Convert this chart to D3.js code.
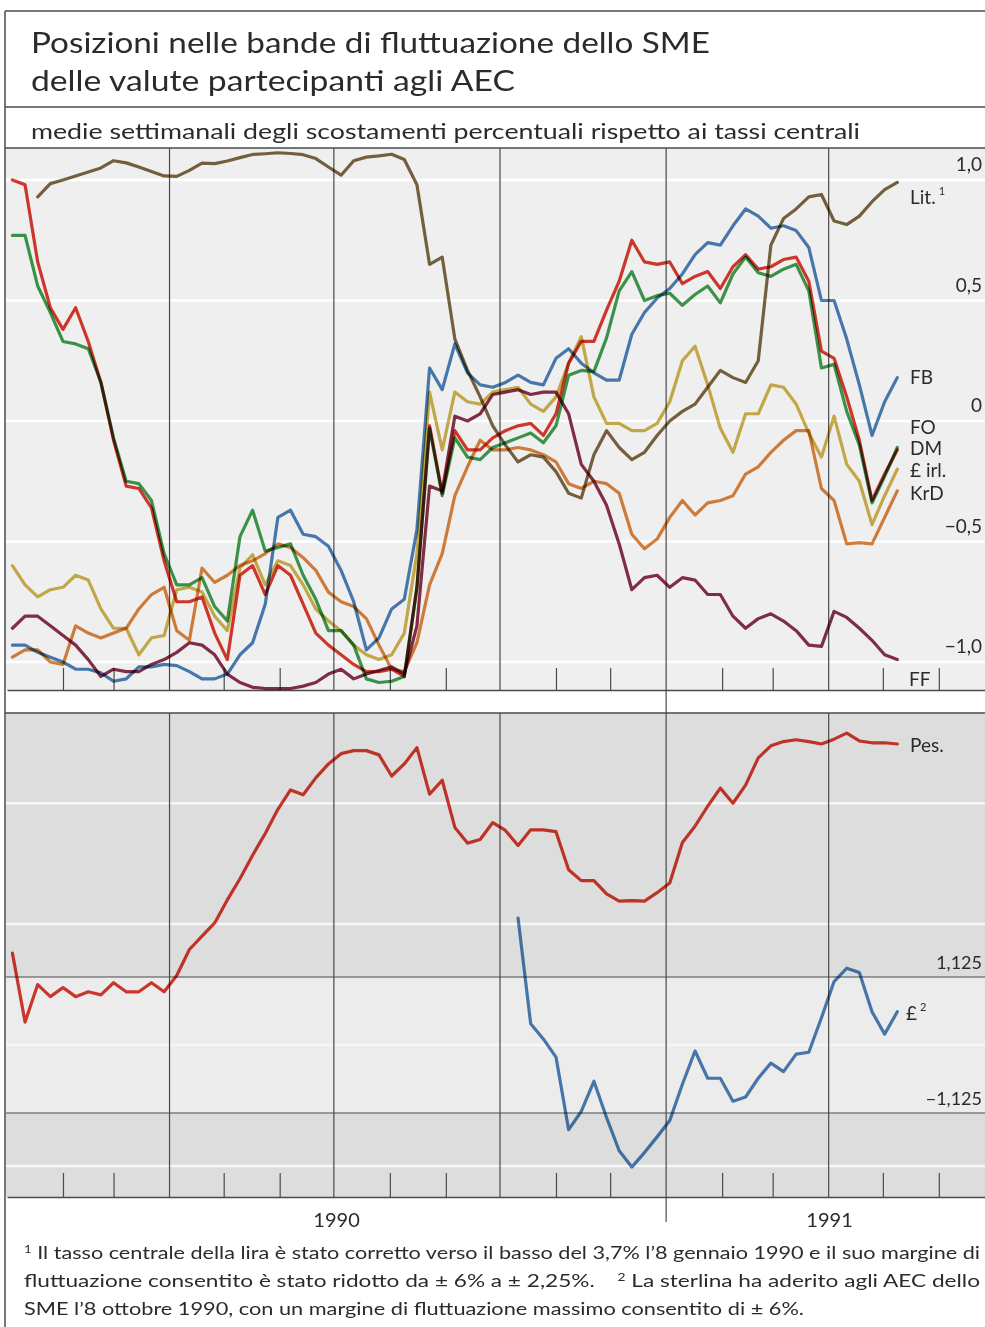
<!DOCTYPE html>
<html><head><meta charset="utf-8">
<script src="https://cdn.jsdelivr.net/npm/d3@7/dist/d3.min.js"></script>
<style>
html,body{margin:0;padding:0;background:#fff;}
svg{display:block;font-family:Lato,"Open Sans",sans-serif;}
</style></head><body>
<svg id="chart" width="985" height="1327"></svg>
<script>
// ---------------- DATA ----------------
const weekStart = "1990-01-04";   // first weekly average
const nWeeks = 71;
const topNames = ["Lit.", "FB", "FO", "DM", "£ irl.", "KrD", "FF"];
const lira = [null,null,0.93,0.985,1.0,1.017,1.033,1.05,1.08,1.071,1.054,1.035,1.017,1.015,1.04,1.07,1.068,1.079,1.093,1.106,1.109,1.113,1.11,1.105,1.089,1.054,1.02,1.08,1.095,1.10,1.107,1.085,0.98,0.65,0.68,0.34,0.21,0.10,-0.02,-0.10,-0.17,-0.14,-0.15,-0.21,-0.30,-0.32,-0.14,-0.04,-0.11,-0.16,-0.13,-0.06,0.0,0.04,0.07,0.14,0.21,0.18,0.16,0.25,0.73,0.84,0.88,0.93,0.94,0.83,0.815,0.85,0.91,0.96,0.99];
const fb = [-0.93,-0.93,-0.96,-0.98,-1.0,-1.03,-1.03,-1.045,-1.08,-1.07,-1.02,-1.02,-1.01,-1.015,-1.04,-1.07,-1.07,-1.05,-0.97,-0.92,-0.76,-0.40,-0.37,-0.47,-0.48,-0.52,-0.62,-0.75,-0.95,-0.90,-0.78,-0.74,-0.45,0.22,0.13,0.32,0.20,0.15,0.14,0.16,0.19,0.16,0.15,0.26,0.30,0.24,0.20,0.17,0.17,0.36,0.45,0.51,0.55,0.61,0.69,0.74,0.73,0.81,0.88,0.85,0.80,0.81,0.79,0.72,0.50,0.50,0.34,0.15,-0.06,0.08,0.18];
const fo = [0.77,0.77,0.56,0.45,0.33,0.32,0.30,0.16,-0.07,-0.25,-0.26,-0.33,-0.55,-0.68,-0.68,-0.65,-0.77,-0.83,-0.48,-0.37,-0.54,-0.525,-0.51,-0.64,-0.74,-0.87,-0.87,-0.93,-1.07,-1.085,-1.08,-1.06,-0.69,-0.03,-0.31,-0.07,-0.15,-0.16,-0.11,-0.09,-0.07,-0.05,-0.09,-0.02,0.19,0.21,0.205,0.345,0.54,0.62,0.50,0.52,0.53,0.48,0.525,0.56,0.49,0.61,0.68,0.615,0.60,0.63,0.65,0.54,0.22,0.235,0.04,-0.10,-0.34,-0.23,-0.11];
const dm = [1.00,0.98,0.66,0.47,0.38,0.47,0.33,0.16,-0.08,-0.27,-0.28,-0.36,-0.58,-0.75,-0.75,-0.73,-0.88,-0.99,-0.64,-0.60,-0.72,-0.60,-0.64,-0.76,-0.88,-0.93,-0.97,-1.01,-1.04,-1.04,-1.03,-1.06,-0.69,-0.02,-0.30,-0.04,-0.12,-0.12,-0.07,-0.04,-0.02,-0.01,-0.06,0.03,0.24,0.33,0.33,0.46,0.58,0.75,0.66,0.65,0.66,0.57,0.60,0.62,0.55,0.64,0.69,0.63,0.64,0.67,0.68,0.58,0.29,0.26,0.10,-0.08,-0.33,-0.22,-0.12];
const irl = [-0.60,-0.68,-0.73,-0.70,-0.69,-0.64,-0.66,-0.78,-0.86,-0.86,-0.97,-0.90,-0.89,-0.70,-0.69,-0.71,-0.81,-0.87,-0.61,-0.555,-0.68,-0.58,-0.60,-0.68,-0.78,-0.83,-0.87,-0.93,-0.97,-0.99,-0.97,-0.88,-0.55,0.12,-0.12,0.12,0.08,0.07,0.12,0.13,0.14,0.07,0.04,0.10,0.24,0.35,0.10,-0.01,-0.01,-0.04,-0.04,-0.01,0.08,0.25,0.31,0.15,-0.03,-0.13,0.03,0.03,0.15,0.14,0.07,-0.05,-0.15,0.02,-0.18,-0.25,-0.43,-0.31,-0.20];
const krd = [-0.98,-0.95,-0.95,-1.0,-1.01,-0.85,-0.88,-0.90,-0.88,-0.86,-0.78,-0.72,-0.69,-0.87,-0.91,-0.61,-0.67,-0.64,-0.60,-0.58,-0.55,-0.51,-0.525,-0.567,-0.62,-0.71,-0.75,-0.77,-0.82,-0.93,-1.03,-1.04,-0.92,-0.68,-0.55,-0.31,-0.19,-0.08,-0.12,-0.12,-0.11,-0.12,-0.14,-0.17,-0.26,-0.28,-0.25,-0.26,-0.30,-0.47,-0.53,-0.49,-0.40,-0.33,-0.39,-0.34,-0.33,-0.31,-0.22,-0.19,-0.13,-0.08,-0.04,-0.04,-0.28,-0.33,-0.51,-0.505,-0.51,-0.40,-0.29];
const ff = [-0.86,-0.81,-0.81,-0.85,-0.89,-0.93,-0.99,-1.06,-1.03,-1.04,-1.04,-1.01,-0.99,-0.96,-0.92,-0.93,-0.97,-1.05,-1.085,-1.105,-1.11,-1.11,-1.11,-1.10,-1.085,-1.05,-1.03,-1.07,-1.05,-1.035,-1.02,-1.05,-0.85,-0.27,-0.29,0.02,0.00,0.03,0.11,0.12,0.13,0.11,0.12,0.12,0.03,-0.18,-0.25,-0.35,-0.51,-0.70,-0.65,-0.64,-0.69,-0.65,-0.66,-0.72,-0.72,-0.81,-0.86,-0.82,-0.80,-0.83,-0.87,-0.93,-0.935,-0.79,-0.815,-0.86,-0.91,-0.97,-0.99];
const bottomNames = ["Pes.", "£"];
const pes = [1.52,0.38,1.0,0.80,0.95,0.80,0.88,0.83,1.03,0.88,0.88,1.03,0.88,1.15,1.58,1.80,2.02,2.40,2.75,3.14,3.50,3.9,4.22,4.14,4.42,4.65,4.82,4.87,4.87,4.8,4.45,4.65,4.92,4.15,4.38,3.6,3.34,3.40,3.68,3.55,3.3,3.56,3.56,3.53,2.9,2.72,2.72,2.5,2.38,2.39,2.38,2.52,2.68,3.35,3.62,3.95,4.25,4.0,4.3,4.75,4.95,5.02,5.05,5.02,4.98,5.06,5.16,5.03,5.0,5.0,4.98];
const gbp = [null,null,null,null,null,null,null,null,null,null,null,null,null,null,null,null,null,null,null,null,null,null,null,null,null,null,null,null,null,null,null,null,null,null,null,null,null,null,null,null,
  2.1,0.35,0.1,-0.2,-1.4,-1.1,-0.6,-1.2,-1.75,-2.02,-1.78,-1.52,-1.25,-0.65,-0.1,-0.55,-0.55,-0.93,-0.86,-0.55,-0.3,-0.44,-0.15,-0.12,0.45,1.05,1.27,1.2,0.55,0.18,0.55];
const topTickValues = [1, 0.5, 0, -0.5, -1];
const topTickLabels = ["1,0", "0,5", "0", "\u22120,5", "\u22121,0"];
const bottomGridValues = [4, 2, 0, -2];
const bottomBandValues = [1.125, -1.125];
const bottomBandLabels = ["1,125", "\u22121,125"];
const yearLabels = ["1990", "1991"];

// ---------------- SETUP ----------------
const svg = d3.select("#chart");
const parse = d3.timeParse("%Y-%m-%d");
const start = parse(weekStart);
const weeks = d3.range(nWeeks).map(i => d3.timeDay.offset(start, 7 * i));

const x = d3.scaleTime()
  .domain([new Date(1990, 0, 1), new Date(1991, 6, 1)])
  .range([7, 993]);
const yTop = d3.scaleLinear().domain([-1, 1]).range([662, 180]);
const yBot = d3.scaleLinear().domain([-1.125, 1.125]).range([1113, 977]);

const TOP0 = 148, TOP1 = 690, BOT0 = 713, BOT1 = 1197, LEFT = 5, RIGHT = 1000;
const textCol = "#2b2b2b";
const lineCol = "#4a4a4a";

// ---------------- FRAME & TITLES ----------------
svg.append("line").attr("x1", LEFT).attr("x2", RIGHT).attr("y1", 11).attr("y2", 11).attr("stroke", lineCol).attr("stroke-width", 1.3);
svg.append("line").attr("x1", LEFT).attr("x2", RIGHT).attr("y1", 107).attr("y2", 107).attr("stroke", lineCol).attr("stroke-width", 1.3);
svg.append("line").attr("x1", LEFT).attr("x2", LEFT).attr("y1", 11).attr("y2", 1327).attr("stroke", lineCol).attr("stroke-width", 1.5);

svg.append("text").attr("x", 31).attr("y", 53).attr("font-size", 29).attr("fill", textCol)
  .attr("textLength", 679).attr("lengthAdjust", "spacingAndGlyphs")
  .text("Posizioni nelle bande di fluttuazione dello SME");
svg.append("text").attr("x", 31).attr("y", 91).attr("font-size", 29).attr("fill", textCol)
  .attr("textLength", 484).attr("lengthAdjust", "spacingAndGlyphs")
  .text("delle valute partecipanti agli AEC");
svg.append("text").attr("x", 31).attr("y", 139).attr("font-size", 22).attr("fill", textCol)
  .attr("textLength", 829).attr("lengthAdjust", "spacingAndGlyphs")
  .text("medie settimanali degli scostamenti percentuali rispetto ai tassi centrali");

// ---------------- TOP PANEL ----------------
svg.append("rect").attr("x", LEFT + 1).attr("y", TOP0).attr("width", RIGHT - LEFT).attr("height", TOP1 - TOP0).attr("fill", "#efefef");
svg.selectAll(".tgrid").data(topTickValues).join("line")
  .attr("x1", LEFT + 1).attr("x2", RIGHT).attr("y1", d => yTop(d)).attr("y2", d => yTop(d))
  .attr("stroke", "#ffffff").attr("stroke-width", 2.5);

// ---------------- BOTTOM PANEL ----------------
svg.append("rect").attr("x", LEFT + 1).attr("y", BOT0).attr("width", RIGHT - LEFT).attr("height", BOT1 - BOT0).attr("fill", "#dddddd");
svg.append("rect").attr("x", LEFT + 1).attr("y", yBot(1.125)).attr("width", RIGHT - LEFT)
  .attr("height", yBot(-1.125) - yBot(1.125)).attr("fill", "#ececec");
svg.selectAll(".bgrid").data(bottomGridValues).join("line")
  .attr("x1", LEFT + 1).attr("x2", RIGHT).attr("y1", d => yBot(d)).attr("y2", d => yBot(d))
  .attr("stroke", "#f7f7f7").attr("stroke-width", 2.5);
svg.selectAll(".bband").data(bottomBandValues).join("line")
  .attr("x1", LEFT + 1).attr("x2", RIGHT).attr("y1", d => yBot(d)).attr("y2", d => yBot(d))
  .attr("stroke", lineCol).attr("stroke-width", 1.2);

// ---------------- TIME AXES ----------------
const months = d3.timeMonth.range(new Date(1990, 1, 1), new Date(1991, 6, 1));
const quarters = months.filter(m => m.getMonth() % 3 === 0);
const otherMonths = months.filter(m => m.getMonth() % 3 !== 0);

function timeAxis(yPos, h) {
  const g = svg.append("g").attr("transform", `translate(0,${yPos})`)
    .call(d3.axisBottom(x).tickValues(otherMonths).tickSize(-h).tickSizeOuter(0).tickFormat(""));
  g.select(".domain").attr("stroke", lineCol).attr("stroke-width", 1.5);
  g.selectAll(".tick line").attr("stroke", lineCol).attr("stroke-width", 1.2);
  return g;
}
timeAxis(TOP1, 22);
timeAxis(BOT1, 24);
svg.append("line").attr("x1", LEFT).attr("x2", RIGHT).attr("y1", BOT0).attr("y2", BOT0).attr("stroke", lineCol).attr("stroke-width", 1.3);
svg.append("line").attr("x1", LEFT).attr("x2", RIGHT).attr("y1", TOP0).attr("y2", TOP0).attr("stroke", lineCol).attr("stroke-width", 1.3);

// quarter lines
quarters.forEach(q => {
  const isYear = q.getMonth() === 0;
  if (isYear) {
    svg.append("line").attr("x1", x(q)).attr("x2", x(q)).attr("y1", TOP0).attr("y2", BOT1 + 25)
      .attr("stroke", lineCol).attr("stroke-width", 1.2);
  } else {
    [[TOP0, TOP1], [BOT0, BOT1]].forEach(([a, b]) => {
      svg.append("line").attr("x1", x(q)).attr("x2", x(q)).attr("y1", a).attr("y2", b)
        .attr("stroke", lineCol).attr("stroke-width", 1.2);
    });
  }
});

// year labels centred on the visible part of each year
const yearSpans = [[new Date(1990, 0, 1), new Date(1991, 0, 1)], [new Date(1991, 0, 1), new Date(1991, 6, 1)]];
yearSpans.forEach((s, i) => {
  svg.append("text").attr("x", (x(s[0]) + x(s[1])) / 2).attr("y", 1227)
    .attr("text-anchor", "middle").attr("font-size", 20).attr("fill", textCol).text(yearLabels[i]);
});

// ---------------- VALUE LABELS ----------------
svg.selectAll(".tlab").data(topTickValues).join("text")
  .attr("x", 982).attr("y", d => yTop(d) - 9).attr("text-anchor", "end")
  .attr("font-size", 19).attr("fill", textCol).text((d, i) => topTickLabels[i]);
svg.selectAll(".blab").data(bottomBandValues).join("text")
  .attr("x", 982).attr("y", d => yBot(d) - 8).attr("text-anchor", "end")
  .attr("font-size", 18).attr("fill", textCol).text((d, i) => bottomBandLabels[i]);

// ---------------- SERIES ----------------
const topSeries = [
  { name: topNames[0], values: lira, color: "#7c6541" },
  { name: topNames[1], values: fb,   color: "#4b7fb6" },
  { name: topNames[2], values: fo,   color: "#3f9b4b" },
  { name: topNames[3], values: dm,   color: "#db3a2e" },
  { name: topNames[4], values: irl,  color: "#ceb24c" },
  { name: topNames[5], values: krd,  color: "#dc833e" },
  { name: topNames[6], values: ff,   color: "#873048" }
];
const bottomSeries = [
  { name: bottomNames[0], values: pes, color: "#db3a2e" },
  { name: bottomNames[1], values: gbp, color: "#4b7fb6" }
];

function draw(series, yScale) {
  const line = d3.line()
    .defined(d => d.v !== null)
    .x(d => x(d.t)).y(d => yScale(d.v));
  series.forEach(s => {
    const pts = s.values.map((v, i) => ({ t: weeks[i], v }));
    svg.append("path").datum(pts).attr("d", line)
      .attr("fill", "none").attr("stroke", s.color).attr("stroke-width", 3.2)
      .attr("stroke-linejoin", "round").attr("stroke-linecap", "round")
      .style("mix-blend-mode", "multiply");
  });
}
draw(topSeries, yTop);
draw(bottomSeries, yBot);

// ---------------- SERIES LABELS ----------------
const lab = (xx, yy, txt, sup) => {
  const t = svg.append("text").attr("x", xx).attr("y", yy).attr("font-size", 19).attr("fill", textCol).text(txt);
  if (sup) t.append("tspan").attr("font-size", 11).attr("dx", 3).attr("dy", -9).text(sup);
};
lab(910, 204, topNames[0], "1");
lab(910, 384, topNames[1]);
lab(910, 434, topNames[2]);
lab(910, 455, topNames[3]);
lab(910, 477, topNames[4]);
lab(910, 500, topNames[5]);
lab(909, 686, topNames[6]);
lab(910, 752, bottomNames[0]);
lab(906, 1020, bottomNames[1], "2");

// ---------------- FOOTNOTE ----------------
const fn = [
  { parts: [["1", true], [" Il tasso centrale della lira è stato corretto verso il basso del 3,7% l\u20198 gennaio 1990 e il suo margine di", false]], len: 956 },
  { parts: [["fluttuazione consentito è stato ridotto da \u00B1 6% a \u00B1 2,25%.\u2003 ", false], ["2", true], [" La sterlina ha aderito agli AEC dello", false]], len: 956 },
  { parts: [["SME l\u20198 ottobre 1990, con un margine di fluttuazione massimo consentito di \u00B1 6%.", false]], len: 780 }
];
fn.forEach((l, i) => {
  const t = svg.append("text").attr("x", 24).attr("y", 1259 + 28 * i).attr("font-size", 18).attr("fill", textCol)
    .attr("textLength", l.len).attr("lengthAdjust", "spacingAndGlyphs");
  l.parts.forEach(([s, sup]) => {
    const ts = t.append("tspan").text(s);
    if (sup) ts.attr("font-size", 11).attr("baseline-shift", "super");
  });
});
</script>
</body></html>
